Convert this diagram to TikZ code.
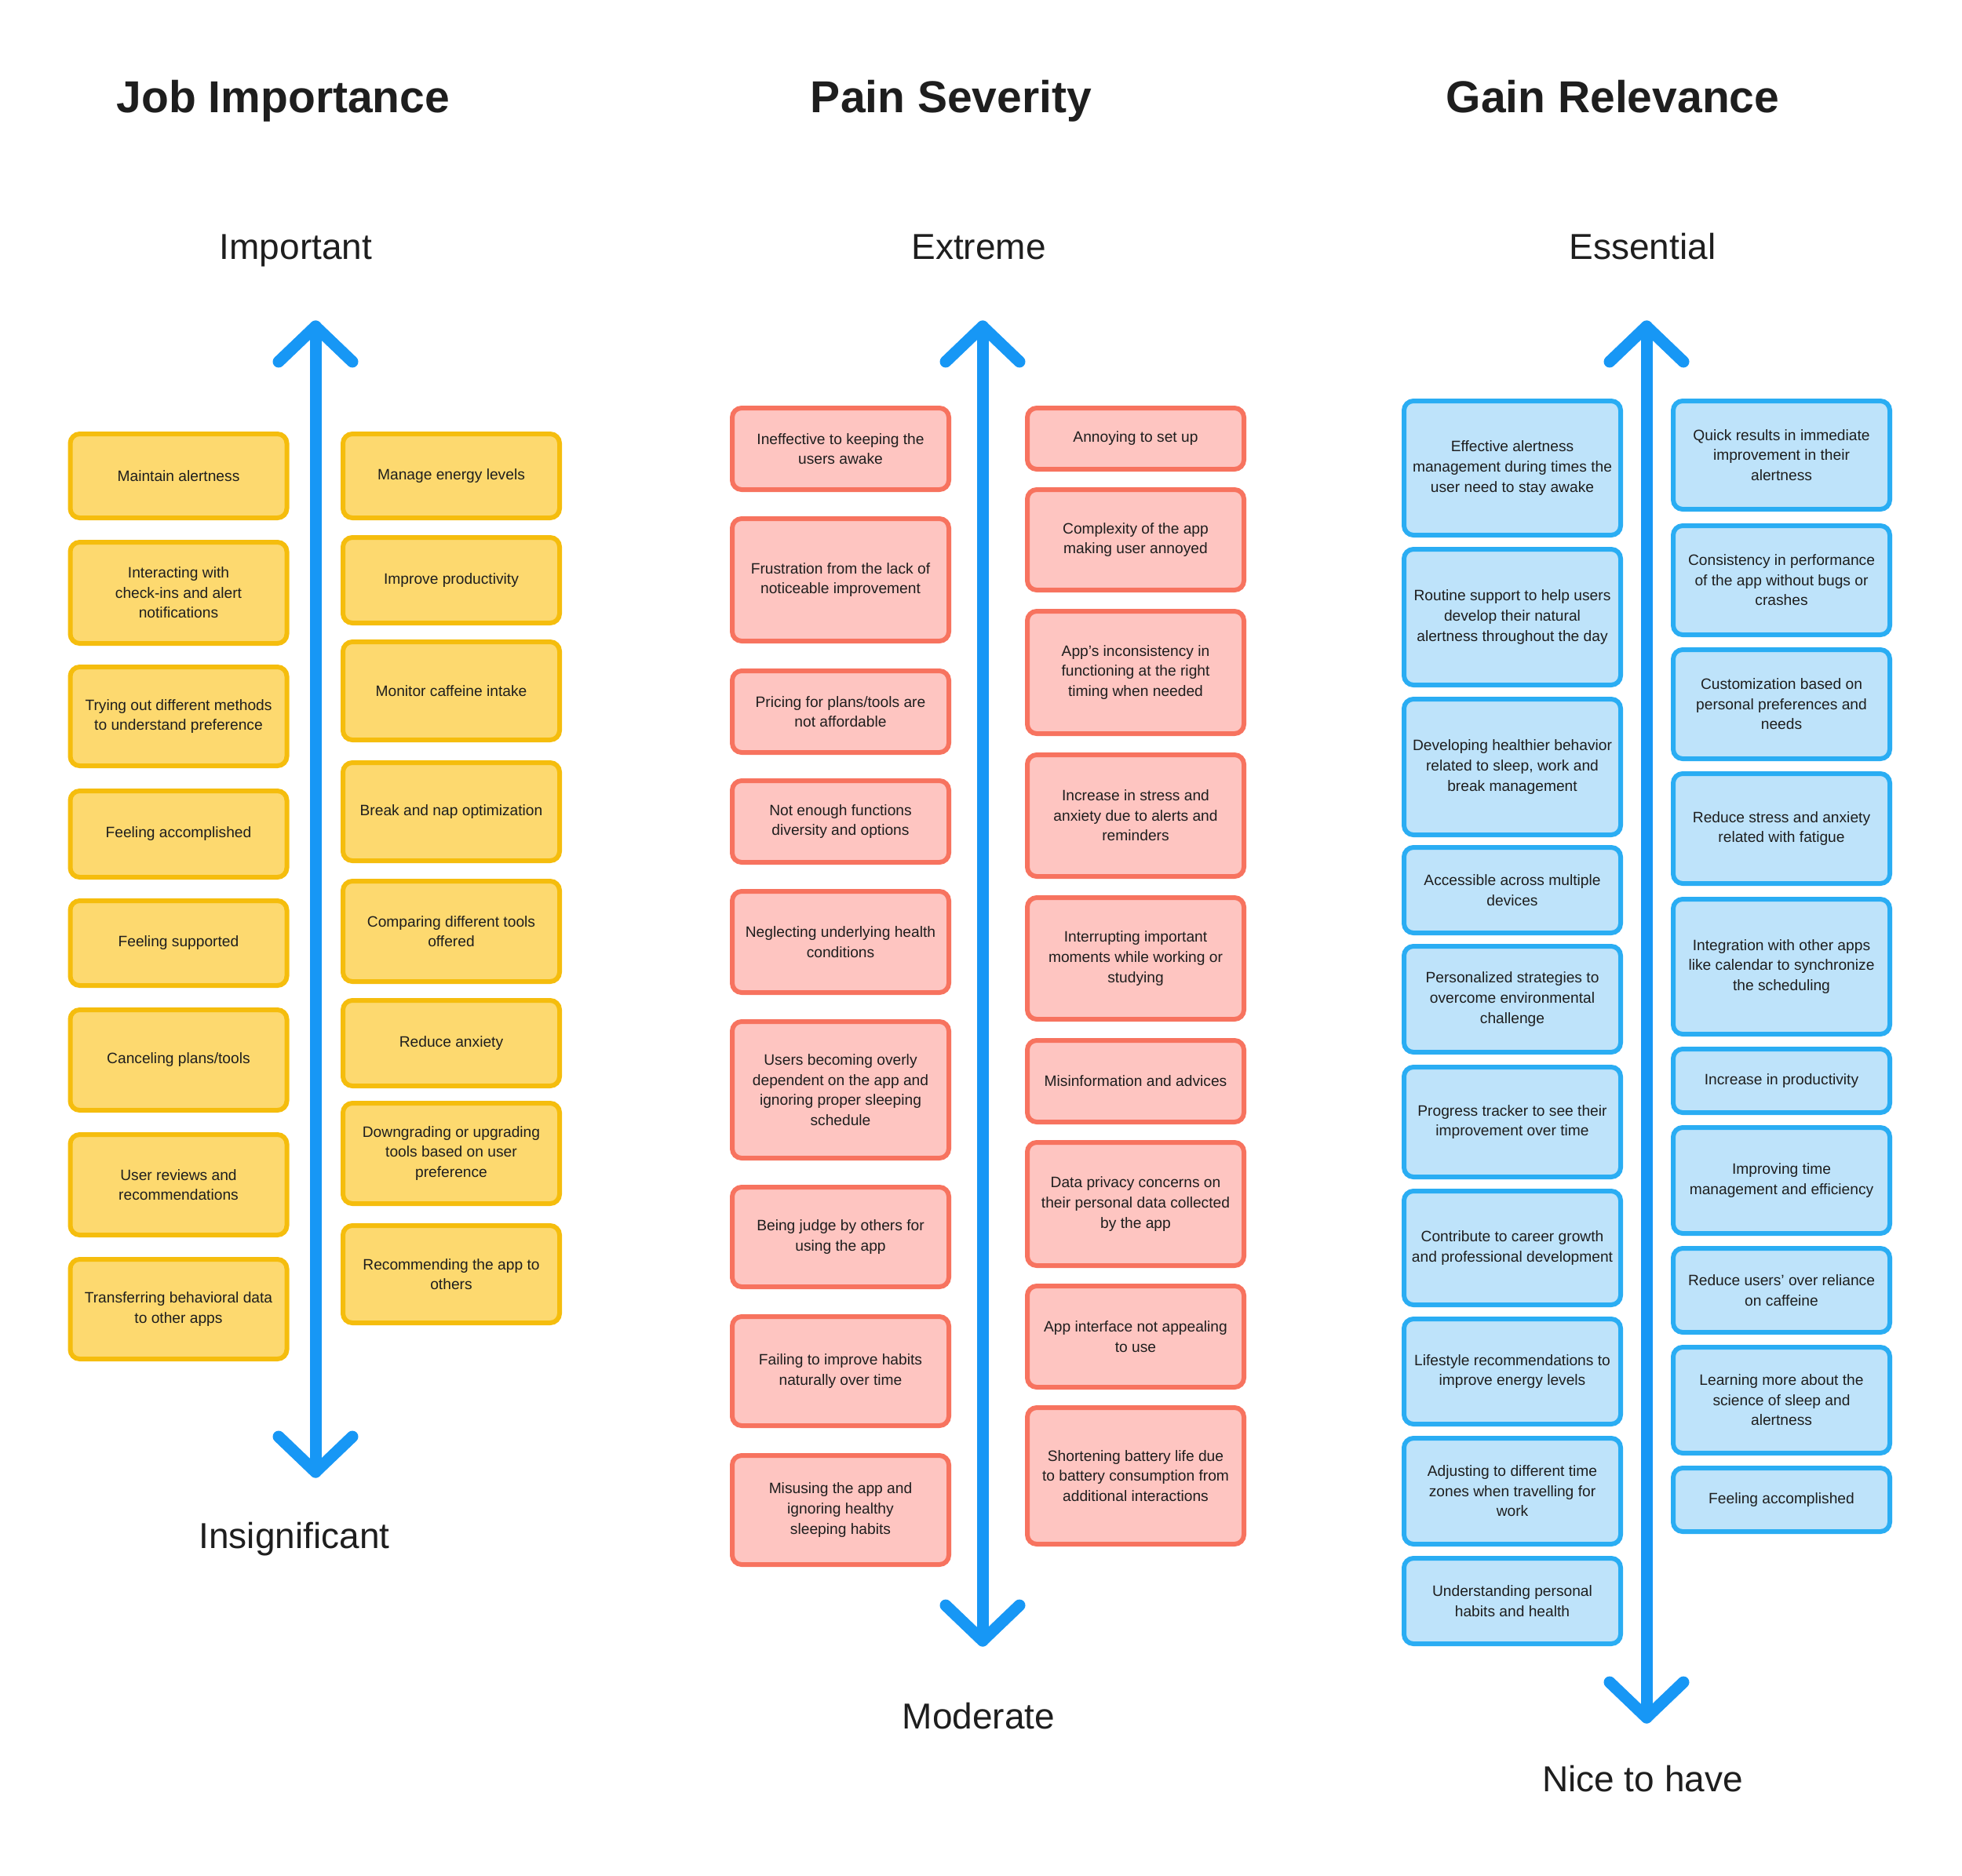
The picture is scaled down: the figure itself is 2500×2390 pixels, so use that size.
\documentclass[tikz,border=0pt]{standalone}
\usepackage{fontspec}
\setmainfont{Liberation Sans}
\usetikzlibrary{calc}
\definecolor{yfill}{HTML}{FDD96F}
\definecolor{yline}{HTML}{F5BD0D}
\definecolor{rfill}{HTML}{FEC5C1}
\definecolor{rline}{HTML}{F7735F}
\definecolor{bfill}{HTML}{BEE3FA}
\definecolor{bline}{HTML}{2AADF3}
\definecolor{axiscol}{HTML}{1797F5}
\definecolor{ink}{HTML}{1E1E1E}
\tikzset{
  cardbase/.style={draw, line width=3pt, rounded corners=6pt, text=ink, align=center,
    inner sep=0pt, minimum width=138pt, font=\fontsize{9.6pt}{12.8pt}\selectfont},
  ybox/.style={cardbase, fill=yfill, draw=yline},
  rbox/.style={cardbase, fill=rfill, draw=rline},
  bbox/.style={cardbase, fill=bfill, draw=bline},
  titletext/.style={text=ink, font=\fontsize{28.5pt}{34pt}\selectfont\bfseries, anchor=base},
  poletext/.style={text=ink, font=\fontsize{23pt}{28pt}\selectfont, anchor=base},
  axisline/.style={draw=axiscol, line width=7.5pt, line cap=round, line join=round}
}
\newcommand\card[6]{\node[#1, minimum height={(#5-#4-6)*0.5pt}] (#2) at (#3,{(#4+#5)/2}) {#6};}
\newcommand\axisarrow[4]{%
  \coordinate (#1t) at (#2,#3);
  \coordinate (#1b) at (#2,#4);
  \draw[axisline] (#1t) -- (#1b);
  \draw[axisline] ($(#1t)+(-47,45)$) -- (#1t) -- ($(#1t)+(47,45)$);
  \draw[axisline] ($(#1b)+(-47,-45)$) -- (#1b) -- ($(#1b)+(47,-45)$);
}
\begin{document}
\begin{tikzpicture}[x=0.5pt, y=-0.5pt]
\useasboundingbox[fill=white] (0,0) rectangle (2500,2390);

% titles
\node[titletext] (t1) at (361,143) {Job Importance};
\node[titletext] (t2) at (1212,143) {Pain Severity};
\node[titletext] (t3) at (2055,143) {Gain Relevance};
\node[poletext] (p1t) at (377,330) {Important};
\node[poletext] (p2t) at (1247,330) {Extreme};
\node[poletext] (p3t) at (2093,330) {Essential};
\node[poletext] (p1b) at (375,1973) {Insignificant};
\node[poletext] (p2b) at (1247,2203) {Moderate};
\node[poletext] (p3b) at (2093,2283) {Nice to have};

% axes
\axisarrow{a1}{402}{416}{1876}
\axisarrow{a2}{1252}{416}{2091}
\axisarrow{a3}{2098}{416}{2189}

% Job importance - left
\card{ybox}{j1}{227.5}{550}{663}{Maintain alertness}
\card{ybox}{j2}{227.5}{688}{823}{Interacting with\\check-ins and alert\\notifications}
\card{ybox}{j3}{227.5}{847}{979}{Trying out different methods\\to understand preference}
\card{ybox}{j4}{227.5}{1005}{1121}{Feeling accomplished}
\card{ybox}{j5}{227.5}{1145}{1259}{Feeling supported}
\card{ybox}{j6}{227.5}{1284}{1418}{Canceling plans/tools}
\card{ybox}{j7}{227.5}{1443}{1577}{User reviews and\\recommendations}
\card{ybox}{j8}{227.5}{1602}{1735}{Transferring behavioral data\\to other apps}
% Job importance - right
\card{ybox}{k1}{575}{550}{663}{Manage energy levels}
\card{ybox}{k2}{575}{682}{797}{Improve productivity}
\card{ybox}{k3}{575}{815}{946}{Monitor caffeine intake}
\card{ybox}{k4}{575}{969}{1100}{Break and nap optimization}
\card{ybox}{k5}{575}{1120}{1254}{Comparing different tools\\offered}
\card{ybox}{k6}{575}{1272}{1387}{Reduce anxiety}
\card{ybox}{k7}{575}{1403}{1537}{Downgrading or upgrading\\tools based on user\\preference}
\card{ybox}{k8}{575}{1559}{1689}{Recommending the app to\\others}

% Pain severity - left
\card{rbox}{p1}{1071}{517}{627}{Ineffective to keeping the\\users awake}
\card{rbox}{p2}{1071}{658}{820}{Frustration from the lack of\\noticeable improvement}
\card{rbox}{p3}{1071}{852}{962}{Pricing for plans/tools are\\not affordable}
\card{rbox}{p4}{1071}{992}{1102}{Not enough functions\\diversity and options}
\card{rbox}{p5}{1071}{1133}{1268}{Neglecting underlying health\\conditions}
\card{rbox}{p6}{1071}{1299}{1479}{Users becoming overly\\dependent on the app and\\ignoring proper sleeping\\schedule}
\card{rbox}{p7}{1071}{1510}{1643}{Being judge by others for\\using the app}
\card{rbox}{p8}{1071}{1675}{1820}{Failing to improve habits\\naturally over time}
\card{rbox}{p9}{1071}{1852}{1997}{Misusing the app and\\ignoring healthy\\sleeping habits}
% Pain severity - right
\card{rbox}{q1}{1447}{517}{601}{Annoying to set up}
\card{rbox}{q2}{1447}{621}{755}{Complexity of the app\\making user annoyed}
\card{rbox}{q3}{1447}{776}{938}{App's inconsistency in\\functioning at the right\\timing when needed}
\card{rbox}{q4}{1447}{959}{1120}{Increase in stress and\\anxiety due to alerts and\\reminders}
\card{rbox}{q5}{1447}{1141}{1302}{Interrupting important\\moments while working or\\studying}
\card{rbox}{q6}{1447}{1323}{1433}{Misinformation and advices}
\card{rbox}{q7}{1447}{1453}{1616}{Data privacy concerns on\\their personal data collected\\by the app}
\card{rbox}{q8}{1447}{1636}{1771}{App interface not appealing\\to use}
\card{rbox}{q9}{1447}{1791}{1971}{Shortening battery life due\\to battery consumption from\\additional interactions}

% Gain relevance - left
\card{bbox}{g1}{1927}{508}{685}{Effective alertness\\management during times the\\user need to stay awake}
\card{bbox}{g2}{1927}{697}{876}{Routine support to help users\\develop their natural\\alertness throughout the day}
\card{bbox}{g3}{1927}{888}{1067}{Developing healthier behavior\\related to sleep, work and\\break management}
\card{bbox}{g4}{1927}{1077}{1192}{Accessible across multiple\\devices}
\card{bbox}{g5}{1927}{1203}{1344}{Personalized strategies to\\overcome environmental\\challenge}
\card{bbox}{g6}{1927}{1357}{1503}{Progress tracker to see their\\improvement over time}
\card{bbox}{g7}{1927}{1515}{1666}{Contribute to career growth\\and professional development}
\card{bbox}{g8}{1927}{1678}{1818}{Lifestyle recommendations to\\improve energy levels}
\card{bbox}{g9}{1927}{1830}{1971}{Adjusting to different time\\zones when travelling for\\work}
\card{bbox}{g10}{1927}{1983}{2098}{Understanding personal\\habits and health}
% Gain relevance - right
\card{bbox}{h1}{2270}{508}{652}{Quick results in immediate\\improvement in their\\alertness}
\card{bbox}{h2}{2270}{667}{812}{Consistency in performance\\of the app without bugs or\\crashes}
\card{bbox}{h3}{2270}{825}{970}{Customization based on\\personal preferences and\\needs}
\card{bbox}{h4}{2270}{983}{1129}{Reduce stress and anxiety\\related with fatigue}
\card{bbox}{h5}{2270}{1143}{1321}{Integration with other apps\\like calendar to synchronize\\the scheduling}
\card{bbox}{h6}{2270}{1334}{1421}{Increase in productivity}
\card{bbox}{h7}{2270}{1434}{1575}{Improving time\\management and efficiency}
\card{bbox}{h8}{2270}{1588}{1701}{Reduce users’ over reliance\\on caffeine}
\card{bbox}{h9}{2270}{1714}{1855}{Learning more about the\\science of sleep and\\alertness}
\card{bbox}{h10}{2270}{1868}{1955}{Feeling accomplished}
\end{tikzpicture}
\end{document}
